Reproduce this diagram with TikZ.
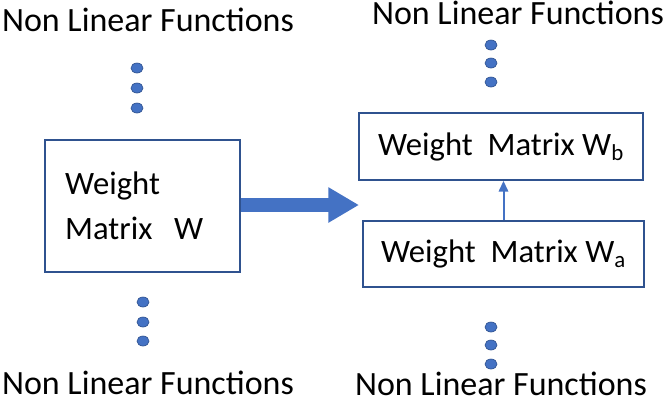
\documentclass[tikz,border=0pt]{standalone}
\usepackage{fontspec}
\setmainfont{Carlito}
\usetikzlibrary{arrows.meta}
\usetikzlibrary{positioning}

\definecolor{officeblue}{HTML}{4472C4}
\definecolor{darkblue}{HTML}{2F528F}

\tikzset{
  box/.style={draw=darkblue,line width=1.5pt,fill=white,font=\fontsize{24.5}{34}\selectfont},
  label/.style={font=\fontsize{25.5}{30}\selectfont,inner sep=0pt},
  dot/.style={fill=officeblue,draw=darkblue,line width=0.5pt},
}

\begin{document}
\begin{tikzpicture}[x=0.75pt,y=-0.75pt]
\useasboundingbox (0,0) rectangle (669,401);

% left column
\node[label] (topL) at (148,20) {Non Linear Functions};
\node[label] (botL) at (148,383) {Non Linear Functions};
\node[box,text width=116pt,inner xsep=15pt,align=left,minimum height=99pt] (W) at (142.5,206) {Weight\\Matrix\ \ W};
\draw[dot] (137,68) ellipse (6 and 5);
\draw[dot] (137,88) ellipse (6 and 5);
\draw[dot] (137,108) ellipse (6 and 5);
\draw[dot] (143,302) ellipse (6 and 5);
\draw[dot] (143,322) ellipse (6 and 5);
\draw[dot] (143,341) ellipse (6 and 5);

% right column
\node[label] (topR) at (518,13) {Non Linear Functions};
\node[label] (botR) at (501,384) {Non Linear Functions};
\node[box,minimum width=213pt,minimum height=50pt] (Wb) at (501,146.5) {Weight\ \ Matrix W\textsubscript{b}};
\node[box,minimum width=211pt,minimum height=49.5pt] (Wa) at (503.5,254) {Weight\ \ Matrix W\textsubscript{a}};
\draw[dot] (491,45) ellipse (6 and 5);
\draw[dot] (491,63) ellipse (6 and 5);
\draw[dot] (491,82) ellipse (6 and 5);
\draw[dot] (491,327) ellipse (6 and 5);
\draw[dot] (491,345) ellipse (6 and 5);
\draw[dot] (491,364) ellipse (6 and 5);

% arrows
\coordinate (tip) at (359,205);
\draw[officeblue,line width=10.5pt,-{Triangle[length=23pt,width=25pt]}] (W.east |- tip) -- (tip);
\draw[officeblue,line width=1.5pt,-{Triangle[length=8pt,width=7pt]}] (Wa.north) -- (Wa.north |- Wb.south);
\end{tikzpicture}
\end{document}
